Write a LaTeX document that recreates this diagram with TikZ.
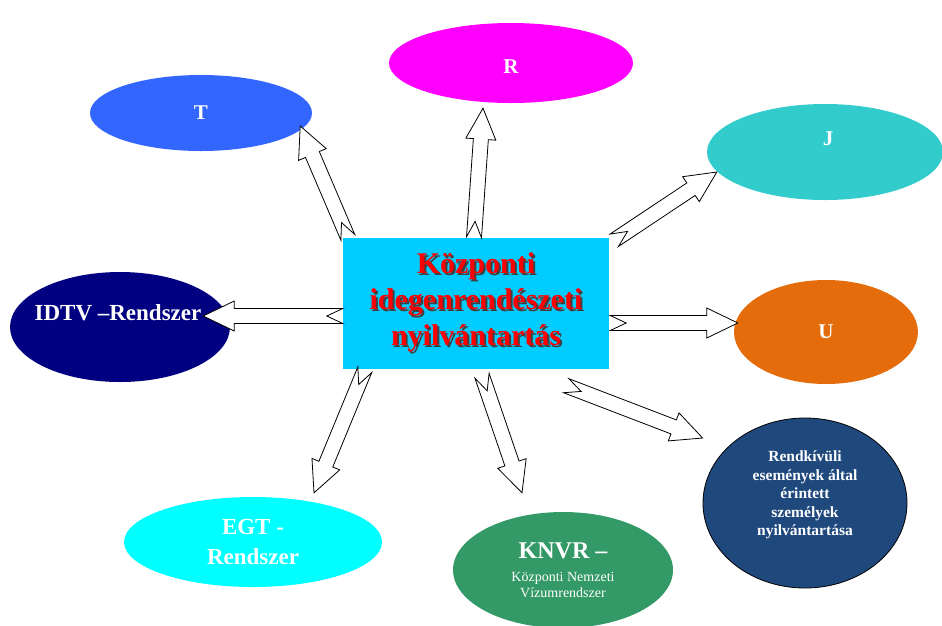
\documentclass[tikz,border=0pt]{standalone}
\usepackage{fontspec}
\setmainfont{Liberation Serif}
\usetikzlibrary{shapes.geometric,calc}

\definecolor{tkek}{HTML}{3366FF}
\definecolor{rlila}{HTML}{FF00FF}
\definecolor{jturk}{HTML}{33CCCC}
\definecolor{unarancs}{HTML}{E46C0A}
\definecolor{idtvkek}{HTML}{000080}
\definecolor{egtcian}{HTML}{00FFFF}
\definecolor{knvrzold}{HTML}{339966}
\definecolor{rendkek}{HTML}{1F497D}
\definecolor{dobozkek}{HTML}{00CCFF}

% arnyekos piros szoveg egy sorban
\newcommand{\arnysor}[1]{\rlap{\kern2pt\raisebox{-2pt}{\color{black!75}#1}}#1}

% bevagott vegu blokknyil: #1 -> #2
\newcommand{\blokknyil}[2]{%
	\draw[nyil] let \p1=#1, \p2=#2,
	\n1={atan2(\y2-\y1,\x2-\x1)}, \n2={veclen(\x2-\x1,\y2-\y1)} in
	[shift={(\p1)}, rotate=\n1]
	(0pt,7.5pt) -- (\n2*1pt-31pt,7.5pt) -- (\n2*1pt-31pt,15pt) -- (\n2*1pt,0pt)
	-- (\n2*1pt-31pt,-15pt) -- (\n2*1pt-31pt,-7.5pt) -- (0pt,-7.5pt) -- (16pt,0pt) -- cycle;}

\begin{document}
\begin{tikzpicture}[x=1pt, y=-1pt,
	kor/.style={ellipse, inner sep=0pt, text=white, align=center,
		font=\bfseries\fontsize{21}{25}\selectfont},
	felirat/.style={text=white, align=center, font=\bfseries\fontsize{23}{27}\selectfont},
	doboz/.style={fill=dobozkek, minimum width=266pt, minimum height=131pt, inner sep=0pt},
	nyil/.style={draw=black, fill=white, line width=0.8pt, line join=miter}]
	
	\useasboundingbox (0,0) rectangle (942,625);
	
	% 1. Ellipszisek
	\node[kor, fill=tkek, minimum width=222pt, minimum height=76pt] (t) at (201,113) {T};
	\node[kor, fill=rlila, minimum width=244pt, minimum height=80pt] (r) at (511,63) {};
	\node[felirat, font=\bfseries\fontsize{21}{25}\selectfont] (rfel) at (511,67) {R};
	\node[kor, fill=jturk, minimum width=236pt, minimum height=96pt] (j) at (825,152) {};
	\node[felirat, font=\bfseries\fontsize{21}{25}\selectfont] (jfel) at (828,139) {J};
	\node[kor, fill=unarancs, minimum width=184pt, minimum height=104pt] (u) at (826,332) {U};
	\node[kor, fill=idtvkek, minimum width=220pt, minimum height=110pt] (idtv) at (120,327) {};
	\node[felirat] (idtvfel) at (118,313) {IDTV –Rendszer};
	\node[kor, fill=egtcian, minimum width=258pt, minimum height=90pt,
		font=\bfseries\fontsize{23}{30}\selectfont] (egt) at (253,542) {EGT -\\Rendszer};
	\node[kor, fill=knvrzold, minimum width=220pt, minimum height=116pt,
		font=\fontsize{14}{15.5}\selectfont] (knvr) at (563,570)
		{\raisebox{0pt}[16pt][13pt]{\bfseries\fontsize{24}{26}\selectfont KNVR –}\\Központi Nemzeti\\Vízumrendszer};
	\node[kor, fill=rendkek, draw=black, line width=0.8pt, minimum width=204pt, minimum height=170pt] (rendk) at (805,503) {};
	\node[felirat, font=\bfseries\fontsize{15.5}{18.5}\selectfont] (rendkfel) at (805,495)
		{Rendkívüli\\események által\\érintett\\személyek\\nyilvántartása};
	
	% 2. Kozponti doboz, arnyekolt piros felirattal
	\node[doboz] (doboz) at (476,303) {};
	\node[text=red, align=center, font=\bfseries\fontsize{30}{36}\selectfont]
		(kozp) at (doboz.center) {\arnysor{Központi}\\\arnysor{idegenrendészeti}\\\arnysor{nyilvántartás}};
	
	% 3. Nyilak a dobozbol kifele
	\blokknyil{([xshift=5pt]doboz.north west)}{([shift={(-12pt,-13pt)}]t.east)}
	\blokknyil{([xshift=-2pt]doboz.north)}{([shift={(-28pt,-5pt)}]r.south)}
	\blokknyil{([shift={(5pt,-3pt)}]doboz.north east)}{([shift={(10pt,-20pt)}]j.west)}
	\blokknyil{([yshift=-13pt]doboz.west)}{([shift={(-27pt,11pt)}]idtv.east)}
	\blokknyil{([shift={(1pt,-20pt)}]doboz.east)}{([shift={(4pt,9pt)}]u.west)}
	\blokknyil{([shift={(-43pt,-17pt)}]doboz.south east)}{([yshift=65pt]rendk.west)}
	\blokknyil{([shift={(6pt,-7pt)}]doboz.south)}{([shift={(-41pt,19pt)}]knvr.north)}
	\blokknyil{([shift={(22pt,-1pt)}]doboz.south west)}{([shift={(61pt,4pt)}]egt.north)}
	
\end{tikzpicture}
\end{document}
